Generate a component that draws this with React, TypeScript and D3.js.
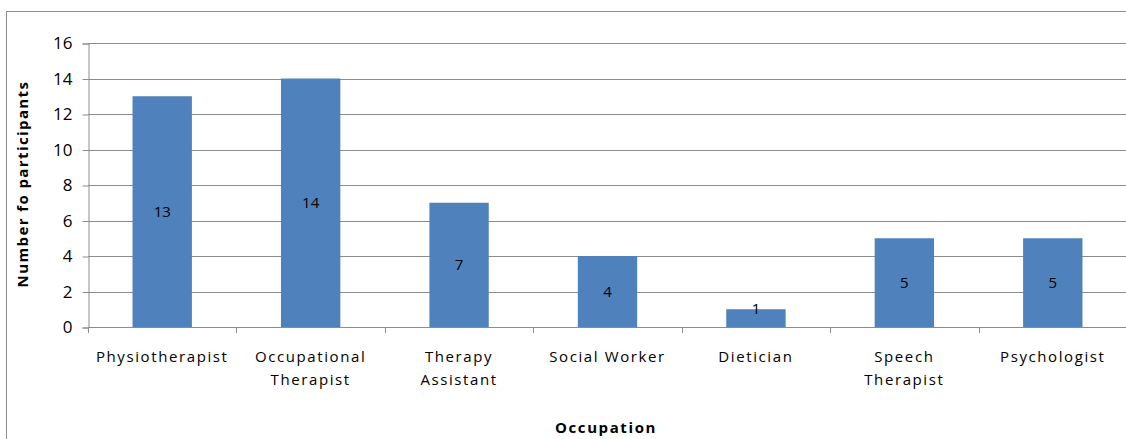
import React, { useEffect, useRef } from 'react';
import * as d3 from 'd3';

// chart data
const categories: string[][] = [
  ['Physiotherapist'],
  ['Occupational', 'Therapist'],
  ['Therapy', 'Assistant'],
  ['Social Worker'],
  ['Dietician'],
  ['Speech', 'Therapist'],
  ['Psychologist'],
];
const participants: number[] = [13, 14, 7, 4, 1, 5, 5];
const yTicks: number[] = [0, 2, 4, 6, 8, 10, 12, 14, 16];

const App = () => {
  const ref = useRef<SVGSVGElement>(null);

  useEffect(() => {
    document.body.style.margin = '0';
    if (!ref.current) return;
    const width = 1126;
    const height = 439;
    const left = 88, right = 1127, top = 43, bottom = 327;
    const font = '"Open Sans", "Liberation Sans", sans-serif';

    const svg = d3.select(ref.current);
    svg.selectAll('*').remove();
    svg.attr('width', width).attr('height', height);

    svg.append('rect').attr('width', width).attr('height', height).attr('fill', '#fff');
    // outer chart border
    svg.append('rect')
      .attr('x', 6.5).attr('y', 11.5)
      .attr('width', 1200).attr('height', 500)
      .attr('fill', 'none').attr('stroke', '#8c8c8c').attr('stroke-width', 1);

    const keys = categories.map((c, i) => String(i));
    const x = d3.scaleBand().domain(keys).range([left, right]).paddingInner(0.6).paddingOuter(0.3);
    const y = d3.scaleLinear().domain([0, 16]).range([bottom, top]);

    // gridlines
    svg.append('g').selectAll('line')
      .data(yTicks.filter(t => t > 0))
      .enter().append('line')
      .attr('x1', left).attr('x2', width)
      .attr('y1', d => Math.round(y(d)) + 0.5).attr('y2', d => Math.round(y(d)) + 0.5)
      .attr('stroke', '#8c8c8c').attr('stroke-width', 1);

    // y axis
    const yAxis = svg.append('g').attr('transform', `translate(${left + 0.5},0.5)`)
      .call(d3.axisLeft(y).tickValues(yTicks).tickSize(6).tickPadding(10).tickFormat(d3.format('d')));
    yAxis.select('.domain').attr('stroke', '#8c8c8c');
    yAxis.selectAll('.tick line').attr('stroke', '#8c8c8c');
    yAxis.selectAll('.tick text')
      .attr('font-family', font).attr('font-size', 17).attr('fill', '#000');

    // x axis line and category ticks
    svg.append('line')
      .attr('x1', left).attr('x2', width)
      .attr('y1', bottom + 0.5).attr('y2', bottom + 0.5)
      .attr('stroke', '#8c8c8c');
    const step = x.step();
    svg.append('g').selectAll('line')
      .data(d3.range(categories.length + 1))
      .enter().append('line')
      .attr('x1', i => Math.round(left + i * step) + 0.5)
      .attr('x2', i => Math.round(left + i * step) + 0.5)
      .attr('y1', bottom).attr('y2', bottom + 6)
      .attr('stroke', '#8c8c8c');

    // bars
    svg.append('g').selectAll('rect')
      .data(participants)
      .enter().append('rect')
      .attr('x', (d, i) => x(String(i))!)
      .attr('y', d => y(d))
      .attr('width', x.bandwidth())
      .attr('height', d => y(0) - y(d))
      .attr('fill', '#4f81bd');

    // value labels
    svg.append('g').selectAll('text')
      .data(participants)
      .enter().append('text')
      .attr('x', (d, i) => x(String(i))! + x.bandwidth() / 2)
      .attr('y', d => Math.min((y(d) + y(0)) / 2, y(0) - 18))
      .attr('dy', '0.35em')
      .attr('text-anchor', 'middle')
      .attr('font-family', font).attr('font-size', 15)
      .text(d => d);

    // category labels
    const catG = svg.append('g').selectAll('text')
      .data(categories)
      .enter().append('text')
      .attr('x', (d, i) => x(String(i))! + x.bandwidth() / 2)
      .attr('y', 362)
      .attr('text-anchor', 'middle')
      .attr('font-family', font).attr('font-size', 15)
      .attr('letter-spacing', 1.6);
    catG.selectAll('tspan')
      .data(d => d)
      .enter().append('tspan')
      .attr('x', function () { return (this as any).parentNode.getAttribute('x'); })
      .attr('dy', (d, i) => (i === 0 ? 0 : 23))
      .text(d => d);

    // axis titles
    svg.append('text')
      .attr('x', 606).attr('y', 433)
      .attr('text-anchor', 'middle')
      .attr('font-family', font).attr('font-size', 15).attr('font-weight', 'bold')
      .attr('letter-spacing', 1.6)
      .text('Occupation');

    svg.append('text')
      .attr('transform', 'translate(28,184) rotate(-90)')
      .attr('text-anchor', 'middle')
      .attr('font-family', font).attr('font-size', 15).attr('font-weight', 'bold')
      .attr('letter-spacing', 1.4)
      .text('Number fo participants');
  }, []);

  return <svg ref={ref} style={{ display: 'block' }}></svg>;
};

export default App;
